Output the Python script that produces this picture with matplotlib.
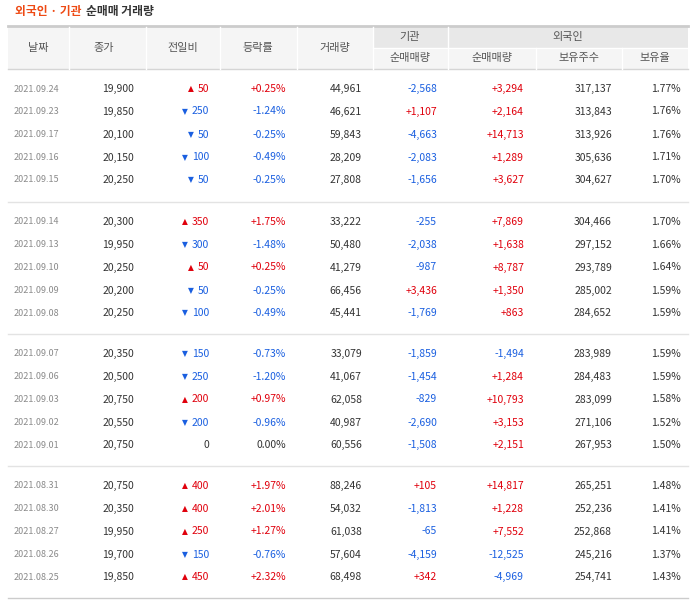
import matplotlib
matplotlib.use("Agg")
import matplotlib.pyplot as plt
from matplotlib import font_manager

dates = ["2021.09.24","2021.09.23","2021.09.17","2021.09.16","2021.09.15",
         "2021.09.14","2021.09.13","2021.09.10","2021.09.09","2021.09.08",
         "2021.09.07","2021.09.06","2021.09.03","2021.09.02","2021.09.01",
         "2021.08.31","2021.08.30","2021.08.27","2021.08.26","2021.08.25"]
close = [19900,19850,20100,20150,20250,20300,19950,20250,20200,20250,
         20350,20500,20750,20550,20750,20750,20350,19950,19700,19850]
change = [50,-250,-50,-100,-50,350,-300,50,-50,-100,
          -150,-250,200,-200,0,400,400,250,-150,450]
pct = [0.25,-1.24,-0.25,-0.49,-0.25,1.75,-1.48,0.25,-0.25,-0.49,
       -0.73,-1.20,0.97,-0.96,0.00,1.97,2.01,1.27,-0.76,2.32]
volume = [44961,46621,59843,28209,27808,33222,50480,41279,66456,45441,
          33079,41067,62058,40987,60556,88246,54032,61038,57604,68498]
inst_net = [-2568,1107,-4663,-2083,-1656,-255,-2038,-987,3436,-1769,
            -1859,-1454,-829,-2690,-1508,105,-1813,-65,-4159,342]
frgn_net = [3294,2164,14713,1289,3627,7869,1638,8787,1350,863,
            -1494,1284,10793,3153,2151,14817,1228,7552,-12525,-4969]
frgn_hold = [317137,313843,313926,305636,304627,304466,297152,293789,285002,284652,
             283989,284483,283099,271106,267953,265251,252236,252868,245216,254741]
frgn_ratio = [1.77,1.76,1.76,1.71,1.70,1.70,1.66,1.64,1.59,1.59,
              1.59,1.59,1.58,1.52,1.50,1.48,1.41,1.41,1.37,1.43]

names = {f.name for f in font_manager.fontManager.ttflist}
cjk = [n for n in ["Noto Sans CJK KR", "Noto Sans CJK JP", "Noto Sans CJK SC", "Noto Sans CJK TC"] if n in names]
cjk += sorted(n for n in names if "CJK" in n and n not in cjk)
plt.rcParams["font.family"] = cjk + ["DejaVu Sans"]
RED, BLUE, DARK, GREY = "#e0000c", "#1a5fe0", "#333333", "#8a8a8a"

fig = plt.figure(figsize=(6.99, 6.05), dpi=100)
ax = fig.add_axes([0, 0, 1, 1])
ax.set_xlim(0, 699); ax.set_ylim(605, 0); ax.axis("off")

t1 = ax.text(15, 12, "외국인 · 기관", color="#ee4a14", fontsize=8.5, fontweight="bold", va="center")
fig.canvas.draw()
bb = t1.get_window_extent()
ax.text(bb.x1 + 4, 12, "순매매 거래량", color="#333333", fontsize=8.5, fontweight="bold", va="center")

L, R = 8, 688
ax.fill_between([L, 373], 26, 69, color="#f5f5f5", lw=0)
ax.fill_between([373, R], 26, 48, color="#e8e8e8", lw=0)
ax.fill_between([373, R], 48, 69, color="#f5f5f5", lw=0)
ax.plot([L, R], [26, 26], color="#cccccc", lw=2)
ax.plot([L, R], [69, 69], color="#d5d5d5", lw=1)
ax.plot([373, R], [48, 48], color="#ffffff", lw=1)
for x in [69, 146, 220, 297, 373, 448]:
    ax.plot([x, x], [27, 69], color="#ffffff", lw=1)
for x in [536, 622]:
    ax.plot([x, x], [48, 69], color="#ffffff", lw=1)

hk = dict(fontsize=8, color="#555555", ha="center", va="center")
for x, s in [(38, "날짜"), (104, "종가"), (183, "전일비"), (258, "등락률"), (335, "거래량")]:
    ax.text(x, 48, s, **hk)
ax.text(410, 37, "기관", **hk)
ax.text(568, 37, "외국인", **hk)
for x, s in [(410, "순매매량"), (492, "순매매량"), (579, "보유주수"), (655, "보유율")]:
    ax.text(x, 58, s, **hk)

def sgn(v):
    return f"{v:+,}"

group_starts = [89, 222, 354, 486]
steps = [0, 22.5, 45.5, 68.5, 91]
fs = 7.5
for i in range(len(dates)):
    g, k = divmod(i, 5)
    y = group_starts[g] + steps[k]
    ax.text(14, y, dates[i], fontsize=6.5, color=GREY, va="center", ha="left")
    ax.text(134, y, f"{close[i]:,}", fontsize=fs, color=DARK, va="center", ha="right")
    c = change[i]
    col = RED if c > 0 else (BLUE if c < 0 else DARK)
    t = ax.text(209, y, f"{abs(c):,}", fontsize=fs, color=col, va="center", ha="right")
    if c != 0:
        fig.canvas.draw()
        w = t.get_window_extent().width
        ax.text(209 - w - 4, y, "▲" if c > 0 else "▼", fontsize=5.5, color=col, va="center", ha="right",
                family="DejaVu Sans")
    p = pct[i]
    ax.text(286, y, f"{p:+.2f}%" if p != 0 else "0.00%", fontsize=fs,
            color=RED if p > 0 else (BLUE if p < 0 else DARK), va="center", ha="right")
    ax.text(362, y, f"{volume[i]:,}", fontsize=fs, color=DARK, va="center", ha="right")
    v = inst_net[i]
    ax.text(437, y, sgn(v), fontsize=fs, color=RED if v > 0 else BLUE, va="center", ha="right")
    v = frgn_net[i]
    ax.text(524, y, sgn(v), fontsize=fs, color=RED if v > 0 else BLUE, va="center", ha="right")
    ax.text(612, y, f"{frgn_hold[i]:,}", fontsize=fs, color=DARK, va="center", ha="right")
    ax.text(681, y, f"{frgn_ratio[i]:.2f}%", fontsize=fs, color=DARK, va="center", ha="right")

for y in [202, 334, 466]:
    ax.plot([L, R], [y, y], color="#e3e3e3", lw=1)
ax.plot([L, R], [598, 598], color="#cccccc", lw=1)

fig.savefig("out.png", dpi=100)
